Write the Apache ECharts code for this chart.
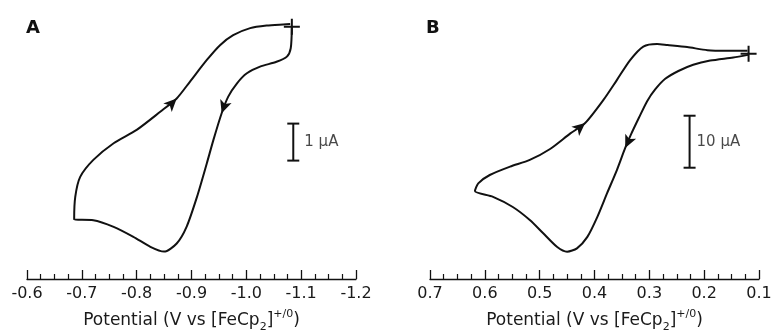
<!DOCTYPE html>
<html>
<head>
<meta charset="utf-8">
<script src="https://cdn.jsdelivr.net/npm/echarts@6/dist/echarts.min.js"></script>
<style>
html,body{margin:0;padding:0;background:#fff;}
#chart{width:773px;height:333px;}
</style>
</head>
<body>
<div id="chart"></div>
<script>
// ---------- Data ----------
// Panel A: potential (V vs FeCp2+/0) and current (µA, arbitrary offset)
const potentialA = [-1.083, -1.081, -1.074, -1.055, -1.025, -1.001, -0.983, -0.967, -0.955, -0.940,
  -0.928, -0.910, -0.891, -0.873, -0.850, -0.825, -0.794, -0.758, -0.721, -0.686,
  -0.688, -0.697, -0.721, -0.758, -0.800, -0.843, -0.873, -0.897, -0.928, -0.952,
  -0.976, -1.007, -1.037, -1.067, -1.080];
const currentA = [6.82, 6.24, 6.01, 5.87, 5.74, 5.56, 5.29, 4.93, 4.48, 3.76,
  3.13, 2.22, 1.41, 0.96, 0.74, 0.87, 1.14, 1.41, 1.59, 1.61,
  2.22, 2.76, 3.22, 3.67, 4.03, 4.52, 4.88, 5.33, 5.92, 6.32,
  6.59, 6.78, 6.85, 6.88, 6.89];

// Panel B
const potentialB = [0.120, 0.147, 0.189, 0.220, 0.247, 0.271, 0.289, 0.304, 0.319, 0.333, 0.344,
  0.359, 0.377, 0.395, 0.413, 0.432, 0.450, 0.468, 0.494, 0.518,
  0.549, 0.585, 0.618, 0.612, 0.591, 0.554, 0.518, 0.481, 0.444, 0.417,
  0.384, 0.359, 0.335, 0.311, 0.286, 0.267, 0.231, 0.194, 0.158, 0.121];
const currentB = [43.1, 42.6, 42.0, 41.2, 40.0, 38.5, 36.5, 34.2, 31.0, 27.9, 25.2,
  21.0, 16.5, 11.9, 8.1, 5.9, 5.25, 6.15, 8.85, 11.35,
  13.85, 15.8, 16.9, 18.4, 20.0, 21.6, 22.9, 25.0, 28.0, 30.0,
  34.4, 38.3, 42.1, 44.7, 45.2, 45.0, 44.6, 44.0, 43.9, 43.9];

// Scan start markers (+)
const startA = [-1.083, 6.82];
const startB = [0.119, 43.3];

// Direction arrows [potential, current]
const arrowsA = [[-0.873, 4.88], [-0.955, 4.48]];
const arrowsB = [[0.417, 30.0], [0.344, 25.2]];

// Scale bars: [potential, lower current, upper current]
const scaleA = [-1.0856, 3.2, 4.2];
const scaleB = [0.2266, 21.4, 31.4];
const scaleLabelA = '1 µA';
const scaleLabelB = '10 µA';

// Axis ranges / ticks
const ticksA = [-1.2, -0.6];
const ticksB = [0.1, 0.7];
const panelLabels = ['A', 'B'];
const axisTitle = 'Potential (V vs [FeCp{sub|2}]{sup|+/0})';

// ---------- Styling ----------
const INK = '#111';
const TXT = '#1a1a1a';
const FONT = 'DejaVu Sans';
const arrowRotA = [-45, 161];
const arrowRotB = [-50, 155];

function zip(xs, ys) { return xs.map((x, k) => [x, ys[k]]); }

function xAxisFor(grid, range) {
  return {
    type: 'value', gridIndex: grid, min: range[0], max: range[1], interval: 0.1,
    inverse: true,
    axisLine: { onZero: false, lineStyle: { color: INK, width: 1.3 } },
    axisTick: { inside: true, length: 9, lineStyle: { color: INK, width: 1.3 } },
    minorTick: { show: true, splitNumber: 4, length: 5, lineStyle: { color: INK, width: 1.2 } },
    splitLine: { show: false },
    axisLabel: { margin: 7, fontSize: 16, fontFamily: FONT, color: TXT,
      formatter: v => v.toFixed(1), showMinLabel: true, showMaxLabel: true },
    name: axisTitle, nameLocation: 'middle', nameGap: 30,
    nameTextStyle: {
      fontFamily: FONT, fontSize: 17, color: TXT, lineHeight: 24,
      rich: {
        sub: { fontFamily: FONT, fontSize: 11, color: TXT, verticalAlign: 'bottom', lineHeight: 12 },
        sup: { fontFamily: FONT, fontSize: 11, color: TXT, verticalAlign: 'top', lineHeight: 12 }
      }
    }
  };
}

function cvSeries(idx, data) {
  return { type: 'line', xAxisIndex: idx, yAxisIndex: idx, data: data, symbol: 'none',
    smooth: 0.25, lineStyle: { color: INK, width: 2 }, z: 3 };
}
function plusSeries(idx, pt) {
  return { type: 'scatter', xAxisIndex: idx, yAxisIndex: idx, data: [pt],
    symbol: 'path://M0,7h16v2h-16z M7,0h2v16h-2z', symbolSize: [16, 16],
    itemStyle: { color: INK, opacity: 1 }, z: 5 };
}
function arrowSeries(idx, pts, rots) {
  return { type: 'scatter', xAxisIndex: idx, yAxisIndex: idx,
    data: pts.map((p, k) => ({ value: p, symbolRotate: rots[k] })),
    symbol: 'arrow', symbolSize: [9, 13], itemStyle: { color: INK, opacity: 1 }, z: 6 };
}
function scaleSeries(idx, s, label, dist) {
  return [
    { type: 'line', xAxisIndex: idx, yAxisIndex: idx, data: [[s[0], s[1]], [s[0], s[2]]],
      symbol: 'rect', symbolSize: [12, 2], showAllSymbol: true,
      itemStyle: { color: INK, opacity: 1 }, lineStyle: { color: INK, width: 2 }, z: 4 },
    { type: 'scatter', xAxisIndex: idx, yAxisIndex: idx, data: [[s[0], (s[1] + s[2]) / 2]],
      symbolSize: 0, itemStyle: { color: 'transparent' },
      label: { show: true, position: 'right', distance: dist, formatter: label,
        fontFamily: FONT, fontSize: 15, color: TXT }, z: 4 }
  ];
}

const chart = echarts.init(document.getElementById('chart'), null, { renderer: 'canvas' });
chart.setOption({
  animation: false,
  backgroundColor: '#fff',
  title: [
    { text: panelLabels[0], left: 26, top: 19, padding: 0,
      textStyle: { fontFamily: FONT, fontSize: 18, fontWeight: 'bold', color: INK } },
    { text: panelLabels[1], left: 426, top: 19, padding: 0,
      textStyle: { fontFamily: FONT, fontSize: 18, fontWeight: 'bold', color: INK } }
  ],
  grid: [
    { left: 27, width: 329, top: 20, bottom: 54, outerBoundsMode: 'none', containLabel: false },
    { left: 430, width: 329, top: 19, bottom: 54, outerBoundsMode: 'none', containLabel: false }
  ],
  xAxis: [xAxisFor(0, ticksA), xAxisFor(1, ticksB)],
  yAxis: [
    { type: 'value', gridIndex: 0, min: 0, max: 7, show: false },
    { type: 'value', gridIndex: 1, min: 0, max: 50, show: false }
  ],
  series: [
    cvSeries(0, zip(potentialA, currentA)),
    cvSeries(1, zip(potentialB, currentB)),
    plusSeries(0, startA),
    plusSeries(1, startB),
    arrowSeries(0, arrowsA, arrowRotA),
    arrowSeries(1, arrowsB, arrowRotB),
    ...scaleSeries(0, scaleA, scaleLabelA, 11),
    ...scaleSeries(1, scaleB, scaleLabelB, 7)
  ]
});
</script>
</body>
</html>
